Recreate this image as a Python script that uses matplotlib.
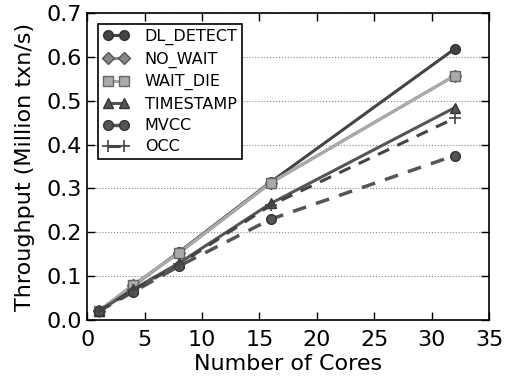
import matplotlib
matplotlib.use('Agg')
import matplotlib.pyplot as plt

cores = [1, 4, 8, 16, 32]
dl_detect = [0.02, 0.078, 0.155, 0.315, 0.618]
no_wait = [0.02, 0.08, 0.153, 0.313, 0.557]
wait_die = [0.02, 0.08, 0.153, 0.313, 0.557]
timestamp = [0.02, 0.07, 0.13, 0.266, 0.484]
mvcc = [0.02, 0.064, 0.123, 0.23, 0.375]
occ = [0.02, 0.068, 0.127, 0.262, 0.46]

plt.rcParams['font.family'] = 'DejaVu Sans'
fig = plt.figure(figsize=(5.1, 3.81), dpi=100)
ax = fig.add_axes([0.171, 0.16, 0.788, 0.806])

ax.plot(cores, dl_detect, '-o', color='#444444', lw=2.2, ms=7, mec='#333333', label='DL_DETECT')
ax.plot(cores, no_wait, '-D', color='#888888', lw=2.2, ms=6, mec='#555555', label='NO_WAIT')
ax.plot(cores, wait_die, '-s', color='#aaaaaa', lw=2.2, ms=7, mec='#666666', label='WAIT_DIE')
ax.plot(cores, timestamp, '-^', color='#555555', lw=2.2, ms=7, mec='#333333', label='TIMESTAMP')
ax.plot(cores, mvcc, '--o', color='#555555', lw=2.5, ms=7, mec='#333333', dashes=(4, 3), label='MVCC')
ax.plot(cores, occ, '--+', color='#444444', lw=2.2, ms=9, mew=1.2, dashes=(4, 3), label='OCC')

ax.set_xlim(0, 35)
ax.set_ylim(0, 0.7)
ax.set_xticks(range(0, 36, 5))
ax.set_yticks([0.0, 0.1, 0.2, 0.3, 0.4, 0.5, 0.6, 0.7])
ax.tick_params(direction='in', top=True, right=True, labelsize=16, length=6, width=1)
ax.tick_params(axis='x', pad=7)
ax.tick_params(axis='y', pad=4)
ax.yaxis.grid(True, linestyle=':', color='#888888', lw=0.8)
for s in ax.spines.values():
    s.set_linewidth(1.2)
ax.set_xlabel('Number of Cores', fontsize=16, labelpad=3)
ax.set_ylabel('Throughput (Million txn/s)', fontsize=16, labelpad=8)
leg = ax.legend(loc='upper left', fontsize=11.5, fancybox=False, edgecolor='black',
                framealpha=1, numpoints=2, handlelength=1.6, handletextpad=1.0,
                labelspacing=0.4, borderpad=0.3, borderaxespad=0.7)
leg.get_frame().set_linewidth(1.2)

fig.savefig('out.png', dpi=100)
